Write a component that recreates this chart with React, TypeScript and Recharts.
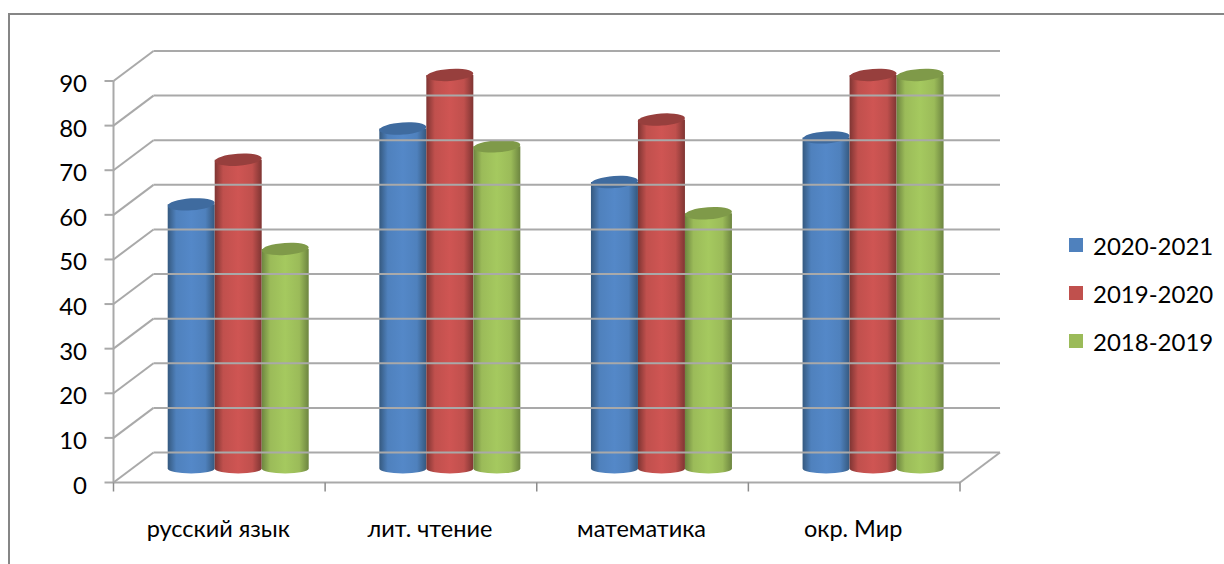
import { BarChart, Bar, XAxis, YAxis, Legend } from "recharts";

const categories = ["русский язык", "лит. чтение", "математика", "окр. Мир"];
const series2020 = [60, 77, 65, 75];
const series2019 = [70, 89, 79, 89];
const series2018 = [50, 73, 58, 89];
const yTicks = [0, 10, 20, 30, 40, 50, 60, 70, 80, 90];

const chartData = categories.map((name, i) => ({
  name,
  s2020: series2020[i],
  s2019: series2019[i],
  s2018: series2018[i],
}));

const WIDTH = 1224;
const HEIGHT = 564;
const AXIS_X = 113.5;
const AXIS_W = 60;
const X_AXIS_H = 81;
const LEGEND_W = 150;
const MARGIN = { top: 81, right: 264 - LEGEND_W, bottom: 0.5, left: AXIS_X - AXIS_W };
const PLOT_RIGHT = WIDTH - 264;
const PLOT_BOTTOM = HEIGHT - MARGIN.bottom - X_AXIS_H;
const DEPTH_X = 40;
const DEPTH_Y = 30;
const LINE = "#a9a9a9";
const FONT = "Lato, Carlito, 'Open Sans', sans-serif";

const COLORS = {
  blue: { edge: "#35597f", mid: "#5488c8", top: "#3f6b9f", legend: "#4f81bd" },
  red: { edge: "#7f3533", mid: "#cf5553", top: "#973f3d", legend: "#c0504d" },
  green: { edge: "#6d8540", mid: "#a5c95f", top: "#7f9a49", legend: "#9bbb59" },
};

function Cylinder(props: any) {
  const { x, y, width, height, tone } = props;
  const c = COLORS[tone as keyof typeof COLORS];
  const left = x + 19.5;
  const right = left + width;
  const cx = left + width / 2;
  const top = y - 10.5;
  const bottom = y + height - 14;
  return (
    <g>
      <path
        d={`M${left},${top} L${left},${bottom} A${width / 2},5 0 0 0 ${right},${bottom} L${right},${top} Z`}
        fill={`url(#cyl-${tone})`}
      />
      <ellipse
        cx={cx}
        cy={top}
        rx={width / 2}
        ry={6}
        fill={c.top}
        transform={`rotate(-4 ${cx} ${top})`}
      />
    </g>
  );
}

function YTick(props: any) {
  const { y, payload } = props;
  return (
    <g>
      <line x1={AXIS_X - 9} x2={AXIS_X} y1={y} y2={y} stroke={LINE} strokeWidth={2} />
      <line x1={AXIS_X} x2={AXIS_X + DEPTH_X} y1={y} y2={y - DEPTH_Y} stroke={LINE} strokeWidth={2} />
      <line
        x1={AXIS_X + DEPTH_X}
        x2={PLOT_RIGHT + DEPTH_X}
        y1={y - DEPTH_Y}
        y2={y - DEPTH_Y}
        stroke={LINE}
        strokeWidth={2}
      />
      {payload.value === 0 && (
        <line
          x1={PLOT_RIGHT}
          x2={PLOT_RIGHT + DEPTH_X}
          y1={y}
          y2={y - DEPTH_Y}
          stroke={LINE}
          strokeWidth={2}
        />
      )}
      <text x={87} y={y + 11} textAnchor="end" fontFamily={FONT} fontSize={24} fill="#000">
        {payload.value}
      </text>
    </g>
  );
}

function XTick(props: any) {
  const { x, payload, index } = props;
  const step = (PLOT_RIGHT - AXIS_X) / categories.length;
  const marks = [x - step / 2];
  if (index === categories.length - 1) marks.push(x + step / 2);
  return (
    <g>
      {marks.map((mx) => (
        <line
          key={mx}
          x1={mx}
          x2={mx}
          y1={PLOT_BOTTOM}
          y2={PLOT_BOTTOM + 9}
          stroke="#8c8c8c"
          strokeWidth={1.5}
        />
      ))}
      <text
        x={x - 1}
        y={PLOT_BOTTOM + 54}
        textAnchor="middle"
        fontFamily={FONT}
        fontSize={23.5}
        fill="#000"
      >
        {payload.value}
      </text>
    </g>
  );
}

function LegendBox({ payload }: any) {
  return (
    <div>
      {(payload || []).map((p: any) => (
        <div
          key={p.value}
          style={{
            display: "flex",
            alignItems: "center",
            height: 48,
            fontFamily: FONT,
            fontSize: 24,
            color: "#000",
          }}
        >
          <span
            style={{
              display: "inline-block",
              width: 14,
              height: 14,
              marginRight: 10,
              background: COLORS[p.payload.tone as keyof typeof COLORS].legend,
            }}
          />
          {p.value}
        </div>
      ))}
    </div>
  );
}

export default function App() {
  return (
    <div style={{ position: "absolute", left: 0, top: 0, width: WIDTH, height: HEIGHT, overflow: "hidden", background: "#fff" }}>
      <div
        style={{
          position: "absolute",
          left: 8,
          top: 13,
          right: -4,
          bottom: -4,
          borderTop: "2px solid #868686",
          borderLeft: "2px solid #868686",
        }}
      />
      <BarChart
        width={WIDTH}
        height={HEIGHT}
        data={chartData}
        margin={MARGIN}
        barCategoryGap="16.4%"
        barGap={0}
        style={{ position: "absolute", left: 0, top: 0 }}
      >
        <defs>
          {Object.entries(COLORS).map(([tone, c]) => (
            <linearGradient key={tone} id={`cyl-${tone}`} x1="0" y1="0" x2="1" y2="0">
              <stop offset="0%" stopColor={c.edge} />
              <stop offset="18%" stopColor={c.legend} />
              <stop offset="50%" stopColor={c.mid} />
              <stop offset="80%" stopColor={c.legend} />
              <stop offset="100%" stopColor={c.edge} />
            </linearGradient>
          ))}
        </defs>
        <YAxis
          type="number"
          domain={[0, 90]}
          ticks={yTicks}
          width={AXIS_W}
          interval={0}
          tick={<YTick />}
          tickLine={false}
          axisLine={{ stroke: LINE, strokeWidth: 2 }}
        />
        <XAxis
          dataKey="name"
          interval={0}
          height={X_AXIS_H}
          tick={<XTick />}
          tickLine={false}
          axisLine={{ stroke: LINE, strokeWidth: 2 }}
        />
        <Bar dataKey="s2020" name="2020-2021" isAnimationActive={false} shape={(p: any) => <Cylinder {...p} tone="blue" />} {...({ tone: "blue" } as any)} />
        <Bar dataKey="s2019" name="2019-2020" isAnimationActive={false} shape={(p: any) => <Cylinder {...p} tone="red" />} {...({ tone: "red" } as any)} />
        <Bar dataKey="s2018" name="2018-2019" isAnimationActive={false} shape={(p: any) => <Cylinder {...p} tone="green" />} {...({ tone: "green" } as any)} />
        <Legend
          content={<LegendBox />}
          layout="vertical"
          align="right"
          verticalAlign="middle"
          itemSorter={null}
          width={LEGEND_W}
          wrapperStyle={{ position: "absolute", left: 1069, top: 221, width: LEGEND_W, bottom: "auto", right: "auto" }}
        />
      </BarChart>
    </div>
  );
}
